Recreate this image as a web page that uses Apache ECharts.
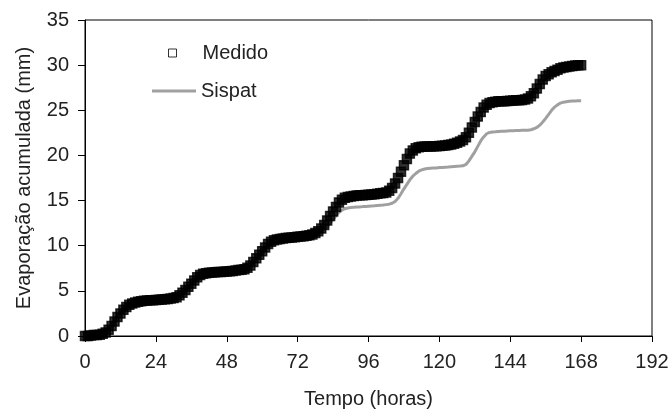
<!DOCTYPE html>
<html>
<head>
<meta charset="utf-8">
<script src="https://cdn.jsdelivr.net/npm/echarts@6/dist/echarts.min.js"></script>
<style>
  html, body { margin: 0; padding: 0; background: #fff; }
  #chart { width: 672px; height: 414px; }
</style>
</head>
<body>
<div id="chart"></div>
<script>
  // hourly readings, hour 0 .. 168
  var medido = [
    0.0, 0.0, 0.05, 0.1, 0.1, 0.15, 0.25, 0.4, 0.7, 1.1,
    1.6, 2.1, 2.5, 2.9, 3.2, 3.45, 3.6, 3.7, 3.8, 3.85,
    3.9, 3.92, 3.95, 3.97, 4.0, 4.02, 4.05, 4.08, 4.1, 4.15,
    4.2, 4.3, 4.5, 4.8, 5.1, 5.45, 5.8, 6.15, 6.5, 6.75,
    6.9, 6.95, 7.0, 7.02, 7.05, 7.08, 7.1, 7.12, 7.15, 7.18,
    7.2, 7.25, 7.3, 7.35, 7.4, 7.55, 7.8, 8.2, 8.6, 9.0,
    9.4, 9.8, 10.2, 10.45, 10.6, 10.7, 10.75, 10.8, 10.85, 10.88,
    10.9, 10.95, 11.0, 11.02, 11.05, 11.1, 11.15, 11.25, 11.4, 11.6,
    11.9, 12.3, 12.8, 13.3, 13.8, 14.3, 14.8, 15.1, 15.3, 15.4,
    15.45, 15.5, 15.55, 15.58, 15.6, 15.62, 15.65, 15.68, 15.7, 15.75,
    15.8, 15.85, 15.9, 16.1, 16.4, 16.9, 17.5, 18.2, 18.9, 19.6,
    20.2, 20.55, 20.8, 20.9, 20.95, 20.98, 21.0, 21.0, 21.02, 21.03,
    21.05, 21.08, 21.1, 21.15, 21.2, 21.3, 21.4, 21.55, 21.7, 22.0,
    22.5, 23.1, 23.7, 24.3, 24.8, 25.3, 25.6, 25.8, 25.9, 25.95,
    26.0, 26.0, 26.0, 26.02, 26.05, 26.08, 26.1, 26.12, 26.15, 26.2,
    26.3, 26.55, 26.9, 27.4, 27.9, 28.4, 28.8, 29.0, 29.2, 29.35,
    29.5, 29.65, 29.75, 29.8, 29.85, 29.9, 29.95, 29.98, 30.0
  ];
  var sispat = [
    0.0, 0.0, 0.05, 0.1, 0.12, 0.18, 0.3, 0.5, 0.8, 1.2,
    1.7, 2.2, 2.6, 3.0, 3.35, 3.6, 3.8, 3.9, 4.0, 4.05,
    4.1, 4.12, 4.15, 4.18, 4.2, 4.22, 4.25, 4.27, 4.3, 4.32,
    4.35, 4.4, 4.55, 4.8, 5.1, 5.45, 5.8, 6.1, 6.4, 6.65,
    6.8, 6.88, 6.92, 6.95, 6.98, 7.0, 7.02, 7.05, 7.08, 7.1,
    7.12, 7.15, 7.2, 7.25, 7.3, 7.45, 7.7, 8.1, 8.5, 8.9,
    9.3, 9.7, 10.05, 10.3, 10.5, 10.6, 10.65, 10.7, 10.75, 10.78,
    10.8, 10.85, 10.88, 10.9, 10.92, 10.95, 11.0, 11.05, 11.15, 11.3,
    11.5, 11.8, 12.1, 12.5, 12.9, 13.3, 13.7, 13.95, 14.1, 14.18,
    14.22, 14.25, 14.28, 14.3, 14.33, 14.35, 14.38, 14.4, 14.42, 14.45,
    14.48, 14.5, 14.55, 14.6, 14.7, 14.9, 15.25, 15.75, 16.3, 16.8,
    17.3, 17.7, 18.0, 18.25, 18.4, 18.5, 18.55, 18.58, 18.6, 18.62,
    18.65, 18.67, 18.7, 18.72, 18.75, 18.78, 18.8, 18.82, 18.85, 19.0,
    19.4, 19.9, 20.4, 21.0, 21.6, 22.05, 22.4, 22.55, 22.6, 22.62,
    22.65, 22.67, 22.68, 22.7, 22.72, 22.73, 22.75, 22.76, 22.78, 22.8,
    22.8, 22.85, 22.95, 23.1, 23.35, 23.7, 24.1, 24.55, 25.0, 25.35,
    25.6, 25.8, 25.9, 25.95, 26.0, 26.02, 26.04, 26.05, 26.05
  ];
  var hours = [];
  for (var h = 0; h < medido.length; h++) hours.push(h);

  var font = 'Liberation Sans, Arial, sans-serif';
  var txt = '#222';

  var option = {
    animation: false,
    backgroundColor: '#fff',
    grid: {
      left: 85, right: 20, top: 20, bottom: 72,
      show: true, borderColor: '#000', borderWidth: 1
    },
    legend: [{
      // legend keeps the open square of the original marker
      data: [{name: 'Medido', itemStyle: {color: '#fff', borderColor: '#000', borderWidth: 1}}],
      left: 168, top: 43, padding: 0,
      itemWidth: 8, itemHeight: 8,
      textStyle: {fontFamily: font, fontSize: 20, color: txt, padding: [0, 0, 0, 21]}
    }, {
      data: [{name: 'Sispat', icon: 'rect'}],
      left: 152, top: 81, padding: 0,
      itemWidth: 44, itemHeight: 3,
      textStyle: {fontFamily: font, fontSize: 20, color: txt}
    }],
    xAxis: {
      type: 'value', min: 0, max: 192, interval: 24,
      name: 'Tempo (horas)', nameLocation: 'middle', nameGap: 53,
      nameTextStyle: {fontFamily: font, fontSize: 20, color: txt},
      axisLine: {lineStyle: {color: '#000', width: 1}},
      axisTick: {length: 6, lineStyle: {color: '#000'}},
      axisLabel: {margin: 16, fontFamily: font, fontSize: 20, color: txt},
      splitLine: {show: false}
    },
    yAxis: {
      type: 'value', min: 0, max: 35, interval: 5,
      name: 'Evaporação acumulada (mm)', nameLocation: 'middle', nameGap: 51,
      nameTextStyle: {fontFamily: font, fontSize: 20, color: txt},
      axisLine: {show: true, lineStyle: {color: '#000', width: 1}},
      axisTick: {show: true, length: 7, lineStyle: {color: '#000'}},
      axisLabel: {margin: 16, fontFamily: font, fontSize: 20, color: txt},
      splitLine: {show: false}
    },
    series: [{
      name: 'Sispat',
      type: 'line',
      symbol: 'none',
      z: 2,
      lineStyle: {color: '#a0a0a0', width: 3},
      itemStyle: {color: '#a0a0a0'},
      data: hours.map(function (h, i) { return [h, sispat[i]] })
    }, {
      name: 'Medido',
      type: 'scatter',
      symbol: 'rect',
      symbolSize: 9,
      z: 3,
      itemStyle: {color: '#000', borderColor: '#000', borderWidth: 1.5},
      data: hours.map(function (h, i) { return [h, medido[i]] })
    }]
  };

  echarts.init(document.getElementById('chart')).setOption(option);
</script>
</body>
</html>
